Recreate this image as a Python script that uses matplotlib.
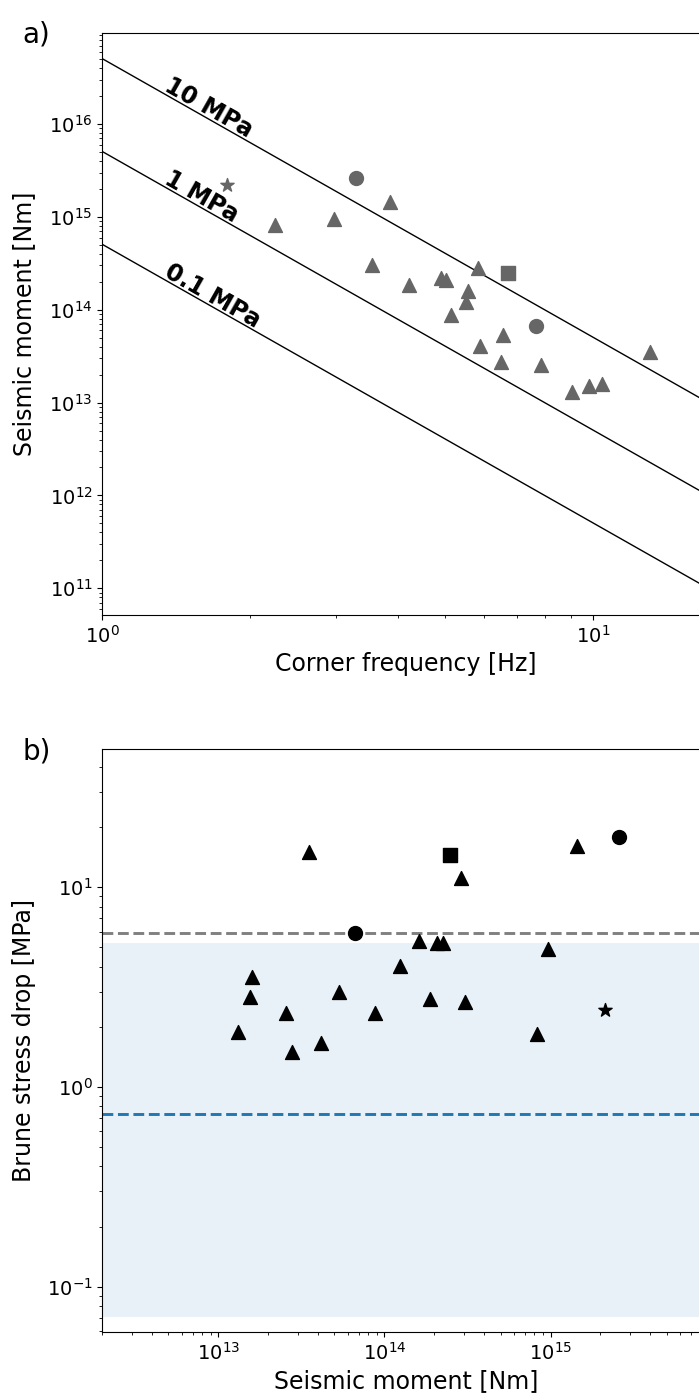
"""Corner frequency vs seismic moment (a) and Brune stress drop vs moment (b)."""

import numpy as np
import matplotlib
matplotlib.use("Agg")
import matplotlib.pyplot as plt

# panel a) corner frequency [Hz] and seismic moment [Nm], by event type
fc_tri = [3.85, 2.97, 2.245, 3.54, 5.84, 4.21, 4.91, 5.02, 5.56, 5.52, 5.14,
          6.56, 5.88, 6.49, 7.82, 13.05, 9.05, 9.81, 10.45]
m0_tri = [1.45e15, 9.6e14, 8.15e14, 3.05e14, 2.84e14, 1.83e14, 2.21e14,
          2.07e14, 1.59e14, 1.21e14, 8.7e13, 5.29e13, 4.12e13, 2.73e13,
          2.51e13, 3.49e13, 1.3e13, 1.52e13, 1.6e13]
fc_circ = [3.29, 7.66]
m0_circ = [2.6e15, 6.66e13]
fc_sq = [6.71]
m0_sq = [2.48e14]
fc_star = [1.797]
m0_star = [2.2e15]

# panel b) seismic moment [Nm] and Brune stress drop [MPa]
mb_tri = [3.5e13, 2.88e14, 1.44e15, 1.61e14, 2.06e14, 2.24e14, 9.7e14,
          1.24e14, 1.6e13, 1.54e13, 5.36e13, 2.54e13, 8.8e13, 1.87e14,
          3.07e14, 1.32e13, 4.15e13, 2.79e13, 8.24e14]
sd_tri = [15.1, 11.2, 16.1, 5.40, 5.24, 5.24, 4.91, 4.05, 3.54, 2.83, 2.98,
          2.36, 2.36, 2.75, 2.65, 1.89, 1.67, 1.50, 1.84]
mb_circ = [6.68e13, 2.57e15]
sd_circ = [5.89, 17.9]
mb_sq = [2.47e14]
sd_sq = [14.6]
mb_star = [2.13e15]
sd_star = [2.43]

# reference stress drops for the Brune lines [MPa]
line_stress = [10, 1, 0.1]
line_labels = ["10 MPa", "1 MPa", "0.1 MPa"]

# summary levels in b)
median_sd = 5.93
mean_sd = 0.73
range_sd = (0.0708, 5.28)

BETA = 3500.0  # shear velocity m/s


def brune_moment(fc, stress_mpa):
    """Seismic moment for a Brune source of given corner frequency."""
    radius = 2.34 * BETA / (2 * np.pi * np.asarray(fc))
    return 16.0 / 7.0 * stress_mpa * 1e6 * radius ** 3


fig = plt.figure(figsize=(6.99, 13.94), dpi=100)

LABEL_FS = 17
TICK_FS = 14

# ---- panel a
ax1 = fig.add_axes([0.1464, 0.5588, 0.869, 0.4173])
ax1.set_xscale("log")
ax1.set_yscale("log")
ax1.set_xlim(1, 17.3)
ax1.set_ylim(5.15e10, 9.5e16)

fgrid = np.logspace(0, np.log10(17.3), 50)
for stress in line_stress:
    ax1.plot(fgrid, brune_moment(fgrid, stress), color="black", lw=1.0)

gray = "#666666"
ax1.scatter(fc_tri, m0_tri, marker="^", s=100, color=gray, zorder=3)
ax1.scatter(fc_circ, m0_circ, marker="o", s=100, color=gray, zorder=3)
ax1.scatter(fc_sq, m0_sq, marker="s", s=100, color=gray, zorder=3)
ax1.scatter(fc_star, m0_star, marker="*", s=100, color=gray, zorder=3)

# angle of the lines on screen
p1 = ax1.transData.transform((1, brune_moment(1, 1)))
p2 = ax1.transData.transform((10, brune_moment(10, 1)))
angle = np.degrees(np.arctan2(p2[1] - p1[1], p2[0] - p1[0]))

f_text = 1.316
for stress, label in zip(line_stress, line_labels):
    ax1.text(f_text, brune_moment(f_text, stress) * 1.58, label,
             rotation=angle, ha="left", va="top",
             fontsize=17, fontweight="bold")

ax1.set_xlabel("Corner frequency [Hz]", fontsize=LABEL_FS)
ax1.set_ylabel("Seismic moment [Nm]", fontsize=LABEL_FS, labelpad=9)
ax1.tick_params(labelsize=TICK_FS)
fig.text(0.032, 0.985, "a)", fontsize=20, va="top")

# ---- panel b
ax2 = fig.add_axes([0.1464, 0.0447, 0.869, 0.418])
ax2.set_xscale("log")
ax2.set_yscale("log")
ax2.set_xlim(2e12, 9.1e15)
ax2.set_ylim(0.0595, 49.3)

ax2.axhspan(range_sd[0], range_sd[1], color="tab:blue", alpha=0.1, lw=0)
ax2.axhline(median_sd, color="grey", ls="--", lw=2.1)
ax2.axhline(mean_sd, color="tab:blue", ls="--", lw=2.1)

ax2.scatter(mb_tri, sd_tri, marker="^", s=100, color="black", zorder=3)
ax2.scatter(mb_circ, sd_circ, marker="o", s=100, color="black", zorder=3)
ax2.scatter(mb_sq, sd_sq, marker="s", s=100, color="black", zorder=3)
ax2.scatter(mb_star, sd_star, marker="*", s=100, color="black", zorder=3)

ax2.set_xlabel("Seismic moment [Nm]", fontsize=LABEL_FS)
ax2.set_ylabel("Brune stress drop [MPa]", fontsize=LABEL_FS, labelpad=8)
ax2.tick_params(labelsize=TICK_FS)
fig.text(0.032, 0.471, "b)", fontsize=20, va="top")

fig.savefig("out.png", dpi=100)
